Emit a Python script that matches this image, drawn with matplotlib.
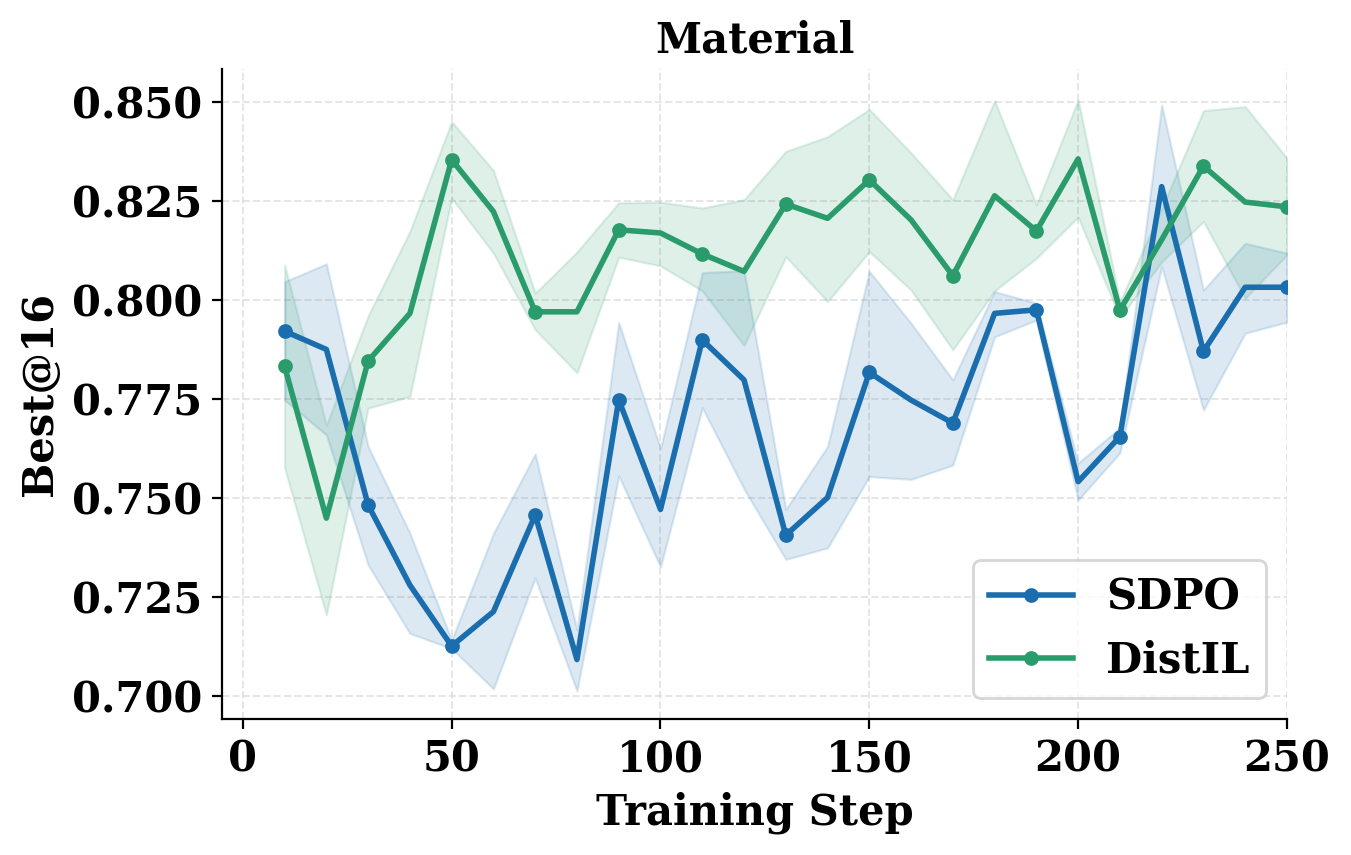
import matplotlib
matplotlib.use("Agg")
import matplotlib.pyplot as plt
import numpy as np

steps = list(range(10, 260, 10))

sdpo_mean = [0.7921, 0.7875, 0.7482, 0.7280, 0.7126, 0.7213, 0.7457, 0.7092, 0.7748, 0.7471,
             0.7899, 0.7798, 0.7406, 0.7501, 0.7817, 0.7747, 0.7689, 0.7966, 0.7975, 0.7541,
             0.7655, 0.8286, 0.7870, 0.8032, 0.8032]
sdpo_low = [0.7747, 0.7659, 0.7331, 0.7158, 0.7120, 0.7018, 0.7298, 0.7013, 0.7556, 0.7326,
            0.7728, 0.7523, 0.7345, 0.7374, 0.7554, 0.7547, 0.7583, 0.7907, 0.7949, 0.7495,
            0.7614, 0.8084, 0.7722, 0.7916, 0.7944]
sdpo_high = [0.8046, 0.8091, 0.7630, 0.7411, 0.7141, 0.7410, 0.7611, 0.7167, 0.7943, 0.7625,
             0.8069, 0.8074, 0.7471, 0.7630, 0.8072, 0.7941, 0.7798, 0.8021, 0.7992, 0.7588,
             0.7677, 0.8492, 0.8025, 0.8143, 0.8118]

distil_mean = [0.7832, 0.7449, 0.7846, 0.7966, 0.8354, 0.8223, 0.7970, 0.7970, 0.8177, 0.8169,
               0.8116, 0.8072, 0.8242, 0.8206, 0.8303, 0.8202, 0.8061, 0.8263, 0.8174, 0.8356,
               0.7974, 0.8152, 0.8338, 0.8247, 0.8235]
distil_low = [0.7576, 0.7205, 0.7727, 0.7756, 0.8257, 0.8118, 0.7925, 0.7816, 0.8108, 0.8086,
              0.8023, 0.7885, 0.8109, 0.7996, 0.8122, 0.8025, 0.7874, 0.8023, 0.8105, 0.8209,
              0.7955, 0.8096, 0.8198, 0.8004, 0.8114]
distil_high = [0.8088, 0.7684, 0.7960, 0.8173, 0.8450, 0.8327, 0.8017, 0.8121, 0.8245, 0.8247,
               0.8232, 0.8253, 0.8375, 0.8412, 0.8481, 0.8371, 0.8253, 0.8503, 0.8240, 0.8505,
               0.7996, 0.8231, 0.8478, 0.8488, 0.8358]

x_ticks = [0, 50, 100, 150, 200, 250]
y_ticks = [0.700, 0.725, 0.750, 0.775, 0.800, 0.825, 0.850]

plt.rcParams['font.family'] = 'DejaVu Serif'
plt.rcParams['font.weight'] = 'bold'

fig = plt.figure(figsize=(6.755, 4.275), dpi=200)
ax = fig.add_axes([0.1643, 0.1591, 0.9526 - 0.1643, 0.9193 - 0.1591])

blue = '#1b6eae'
green = '#2a9c6c'

ax.fill_between(steps, sdpo_low, sdpo_high, color=blue, alpha=0.15, linewidth=0.8)
ax.fill_between(steps, distil_low, distil_high, color=green, alpha=0.15, linewidth=0.8)
ax.plot(steps, sdpo_mean, color=blue, lw=2.0, marker='o', ms=4.3, markevery=2, label='SDPO')
ax.plot(steps, distil_mean, color=green, lw=2.0, marker='o', ms=4.3, markevery=2, label='DistIL')

ax.set_xlim(-5, 250)
ax.set_ylim(0.6942, 0.8583)
ax.set_xticks(x_ticks)
ax.set_yticks(y_ticks)
ax.set_yticklabels([f"{v:.3f}" for v in y_ticks])
ax.tick_params(labelsize=15)
for lab in ax.get_xticklabels() + ax.get_yticklabels():
    lab.set_fontweight('bold')

ax.grid(True, linestyle='--', color='#d5d5d5', alpha=0.6, linewidth=0.7)
ax.set_axisbelow(True)
ax.spines['top'].set_visible(False)
ax.spines['right'].set_visible(False)

ax.set_xlabel('Training Step', fontsize=15, fontweight='bold')
ax.set_ylabel('Best@16', fontsize=15, fontweight='bold')
ax.set_title('Material', fontsize=15, fontweight='bold')

leg = ax.legend(loc='lower right', prop={'size': 15, 'weight': 'bold'}, frameon=True)
leg.get_frame().set_edgecolor('#cccccc')

fig.savefig('out.png', dpi=200)
